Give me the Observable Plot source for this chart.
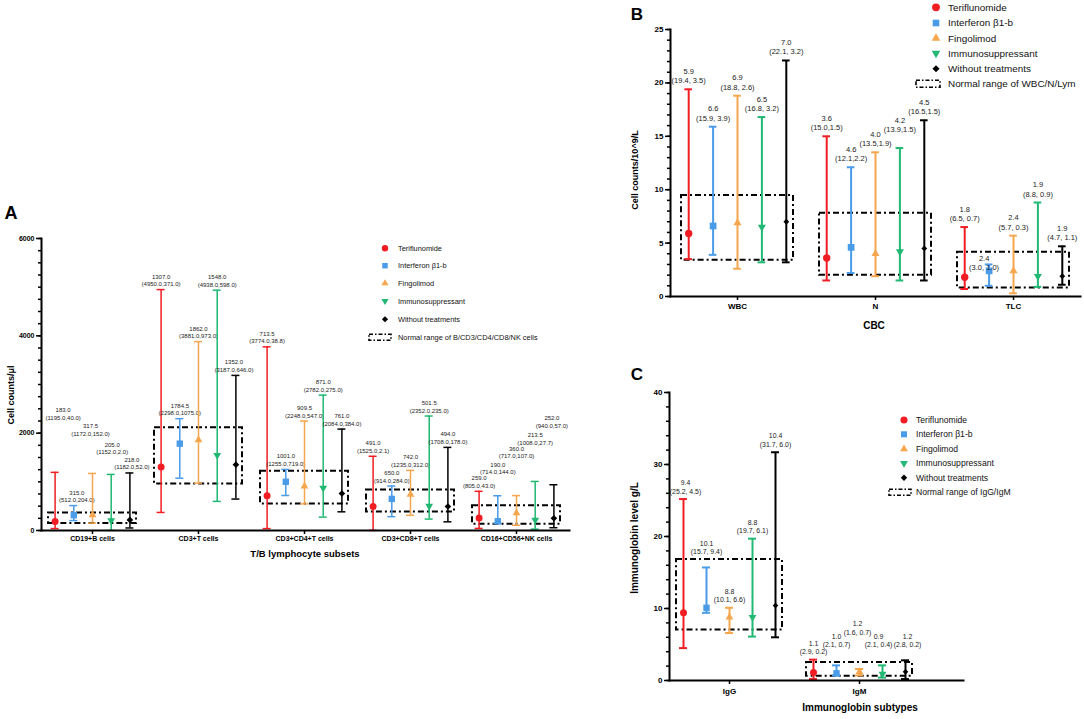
<!DOCTYPE html>
<html><head><meta charset="utf-8">
<script src="https://cdn.jsdelivr.net/npm/d3@7"></script>
<script src="https://cdn.jsdelivr.net/npm/@observablehq/plot@0.6"></script>
<style>
body{margin:0;background:#fff;font-family:"Liberation Sans",Arial,sans-serif;}
#root{position:relative;width:1084px;height:719px;overflow:hidden;background:#fff;}
.lab{position:absolute;white-space:nowrap;color:#000;line-height:1;}
</style></head><body><div id="root"></div>
<script>
// ---------- shared ----------
const treatments = ["Teriflunomide","Interferon β1-b","Fingolimod","Immunosuppressant","Without treatments"];
const colors = ["#f01e23","#4a9be8","#f6a64c","#20b872","#000000"];
const symbols = ["circle","square","triangle","triangle","diamond2"];
const rotations = [0,0,0,180,0];

// ---------- Panel A ----------
const catsA = ["CD19+B cells","CD3+T cells","CD3+CD4+T cells","CD3+CD8+T cells","CD16+CD56+NK cells"];
const medA = [[183.0,315.0,317.5,205.0,218.0],[1307.0,1784.5,1862.0,1548.0,1352.0],[713.5,1001.0,909.5,871.0,761.0],[491.0,650.0,742.0,501.5,494.0],[259.0,190.0,360.0,213.5,252.0]];
const maxA = [[1195.0,512.0,1172.0,1152.0,1182.0],[4950.0,2298.0,3881.0,4938.0,3187.0],[3774.0,1255.0,2248.0,2782.0,2084.0],[1525.0,914.0,1235.0,2352.0,1708.0],[805.0,714.0,717.0,1008.0,940.0]];
const minA = [[40.0,204.0,152.0,2.0,52.0],[371.0,1075.0,973.0,598.0,646.0],[38.8,719.0,547.0,275.0,384.0],[2.1,284.0,312.0,235.0,178.0],[43.0,144.0,107.0,27.7,57.0]];
const labelAtA = [[2200,null,1870,1500,null],[null,null,null,null,null],[null,null,null,null,null],[null,null,null,null,null],[null,1080,1410,1690,2040]];
const labelNudgeA = [[8,3,-2,1,2],[0,0,0,0,-2],[0,0,0,0,0],[0,0,0,0,0],[0,0,0,0,-2]];
const normLoA = [145,955,545,380,130];
const normHiA = [358,2110,1220,830,510];
const sepA = [",",",",",",",",","];

// ---------- Panel B ----------
const catsB = ["WBC","N","TLC"];
const medB = [[5.9,6.6,6.9,6.5,7.0],[3.6,4.6,4.0,4.2,4.5],[1.8,2.4,2.4,1.9,1.9]];
const maxB = [[19.4,15.9,18.8,16.8,22.1],[15.0,12.1,13.5,13.9,16.5],[6.5,3.0,5.7,8.8,4.7]];
const minB = [[3.5,3.9,2.6,3.2,3.2],[1.5,2.2,1.9,1.5,1.5],[0.7,1.0,0.3,0.9,1.1]];
const labelAtB = [[null,null,null,null,null],[null,null,null,14.85,null],[null,1.92,null,null,null]];
const labelNudgeB = [[0,0,0,0,0],[0,0,0,0,0],[0,-5,0,0,0]];
const normLoB = [3.4,2.0,0.8];
const normHiB = [9.45,7.8,4.15];
const sepB = [", ",",",", "];

// ---------- Panel C ----------
const catsC = ["IgG","IgM"];
const medC = [[9.4,10.1,8.8,8.8,10.4],[1.1,1.0,1.2,0.9,1.2]];
const maxC = [[25.2,15.7,10.1,19.7,31.7],[2.9,2.1,1.6,2.1,2.8]];
const minC = [[4.5,9.4,6.6,6.1,6.0],[0.2,0.7,0.7,0.4,0.2]];
const labelAtC = [[null,16.8,null,null,null],[null,3.84,5.59,3.84,3.84]];
const labelNudgeC = [[2,0,0,0,0],[0,0,-2,-4,2]];
const normLoC = [7.0,0.6];
const normHiC = [16.8,2.5];
const sepC = [", ",", "];

const root = document.getElementById("root");

function panel(o) {
  const rows = [];
  o.cats.forEach((c,i)=>treatments.forEach((t,j)=>{
    const la = o.labelAt[i][j];
    rows.push({cat:c, j, med:o.med[i][j], max:o.max[i][j], min:o.min[i][j],
      la: la == null ? o.max[i][j] : la, nudge: o.nudge[i][j],
      label: `${o.med[i][j].toFixed(1)}\n(${o.max[i][j].toFixed(1)}${o.sep[i]}${o.min[i][j].toFixed(1)})`});
  }));
  const ranges = o.cats.map((c,i)=>({cat:c, lo:o.lo[i], hi:o.hi[i]}));
  const bw = (o.xRange[1]-o.xRange[0])/o.cats.length;
  const capIn = (bw - o.capW)/2;
  const marks = [
    Plot.barY(ranges,{x:"cat",y1:"lo",y2:"hi",fill:"none",stroke:"#000",strokeWidth:2,
      strokeDasharray:"6,3,2,3",insetLeft:o.inset,insetRight:o.inset})
  ];
  treatments.forEach((t,j)=>{
    const d = rows.filter(r=>r.j===j);
    const dx = (j-2)*o.spacing;
    marks.push(Plot.ruleX(d,{x:"cat",y1:"min",y2:"max",dx,stroke:colors[j],strokeWidth:o.sw}));
    marks.push(Plot.tickY(d,{x:"cat",y:"max",dx,stroke:colors[j],strokeWidth:o.sw,insetLeft:capIn,insetRight:capIn}));
    marks.push(Plot.tickY(d,{x:"cat",y:"min",dx,stroke:colors[j],strokeWidth:o.sw,insetLeft:capIn,insetRight:capIn}));
    marks.push(Plot.dot(d,{x:"cat",y:"med",dx,symbol:symbols[j],rotate:rotations[j],fill:colors[j],stroke:"none",r:o.r[j]}));
    d.forEach(row=>{
      marks.push(Plot.text([row],{x:"cat",y:"la",dx:dx+row.nudge,text:"label",lineAnchor:"bottom",dy:o.labDy,fontSize:o.labFs,fill:"#222",lineHeight:1.25}));
    });
  });
  marks.push(
    Plot.axisY({ticks:o.yMinor,tickSize:3,tickFormat:()=>"",label:null,strokeWidth:1.5}),
    Plot.axisY({ticks:o.yMajor,tickSize:5,tickPadding:2,tickFormat:d=>String(d),fontSize:o.tickFs,fontWeight:"bold",label:null,strokeWidth:1.5}),
    Plot.axisX({tickSize:4,tickPadding:o.xPad,fontSize:o.xFs,fontWeight:"bold",label:null,strokeWidth:1.5}),
    Plot.frame({anchor:"left",strokeWidth:2}),
    Plot.frame({anchor:"bottom",strokeWidth:2})
  );
  const svg = Plot.plot({
    width:o.width, height:o.height,
    marginLeft:o.ml, marginRight:o.mr, marginTop:o.mt, marginBottom:o.mb,
    x:{type:"band",domain:o.cats,range:o.xRange,padding:0},
    y:{domain:o.yDomain},
    style:{fontFamily:"'Liberation Sans', Arial, sans-serif",color:"#000",background:"transparent",overflow:"visible"},
    marks
  });
  svg.style.position="absolute"; svg.style.left=o.left+"px"; svg.style.top=o.top+"px";
  svg.style.maxWidth="none";
  root.appendChild(svg);
}

panel({cats:catsA,med:medA,max:maxA,min:minA,labelAt:labelAtA,nudge:labelNudgeA,lo:normLoA,hi:normHiA,sep:sepA,
  left:0,top:200,width:580,height:360,ml:41,mr:11,mt:38,mb:30,xRange:[39,569],
  yDomain:[0,6000],yMajor:[0,2000,4000,6000],yMinor:d3.range(0,6001,250),
  spacing:18.7,capW:8,inset:9,sw:1.5,r:[3.5,3.6,2.9,2.9,3.0],labFs:6,labDy:-3.5,tickFs:7,xFs:7,xPad:2});

panel({cats:catsB,med:medB,max:maxB,min:minB,labelAt:labelAtB,nudge:labelNudgeB,lo:normLoB,hi:normHiB,sep:sepB,
  left:600,top:0,width:484,height:320,ml:70,mr:4,mt:29,mb:24,xRange:[67,482],
  yDomain:[0,25],yMajor:[0,5,10,15,20,25],yMinor:d3.range(0,26,1),
  spacing:24.4,capW:8,inset:13,sw:2,r:[3.7,3.8,3.0,3.0,2.6],labFs:7.5,labDy:-6,tickFs:8,xFs:8,xPad:3});

panel({cats:catsC,med:medC,max:maxC,min:minC,labelAt:labelAtC,nudge:labelNudgeC,lo:normLoC,hi:normHiC,sep:sepC,
  left:600,top:370,width:484,height:340,ml:69,mr:121,mt:22,mb:30,xRange:[64,324],
  yDomain:[0,40],yMajor:[0,10,20,30,40],yMinor:d3.range(0,41,2),
  spacing:23,capW:8,inset:12,sw:2,r:[3.5,3.6,2.9,2.9,2.5],labFs:6.9,labDy:-5.4,tickFs:8,xFs:8,xPad:4});

// ---------- titles ----------
function label(txt,x,y,size,{bold=true,rot=0}={}) {
  const d = document.createElement("div");
  d.className="lab"; d.textContent=txt;
  d.style.left=x+"px"; d.style.top=y+"px"; d.style.fontSize=size+"px";
  d.style.fontWeight=bold?"bold":"normal";
  d.style.transform=`translate(-50%,-50%) rotate(${rot}deg)`;
  root.appendChild(d);
}
label("A",11,213,18);
label("B",637,14,17);
label("C",637,374,17);
label("Cell counts/μl",11,395,9,{rot:-90});
label("T/B lymphocyte subsets",305,554,9.5);
label("Cell counts/10^9/L",635,170,9,{rot:-90});
label("CBC",874,326,10);
label("Immunoglobin level g/L",635,538,10,{rot:-90});
label("Immunoglobin subtypes",860,708,10);

// ---------- legends ----------
const ov = d3.select(root).append("svg").attr("width",1084).attr("height",719)
  .style("position","absolute").style("left","0px").style("top","0px")
  .style("font-family","'Liberation Sans', Arial, sans-serif");
const symTypes = [d3.symbolCircle,d3.symbolSquare,d3.symbolTriangle,d3.symbolTriangle,d3.symbolDiamond2];
function legend({x,tx,ys,fs,size,last,dash}) {
  treatments.forEach((t,j)=>{
    ov.append("path").attr("d",d3.symbol(symTypes[j],size[j])())
      .attr("transform",`translate(${x},${ys[j]}) rotate(${rotations[j]})`).attr("fill",colors[j]);
    ov.append("text").attr("x",tx).attr("y",ys[j]).attr("dy","0.35em").attr("font-size",fs).attr("fill","#111").text(t);
  });
  ov.append("rect").attr("x",dash[0]).attr("y",ys[5]-dash[2]/2).attr("width",dash[1]-dash[0]).attr("height",dash[2])
    .attr("fill","none").attr("stroke","#000").attr("stroke-width",1.6).attr("stroke-dasharray","4,2,1.5,2");
  ov.append("text").attr("x",tx).attr("y",ys[5]).attr("dy","0.35em").attr("font-size",fs).attr("fill","#111").text(last);
}
legend({x:385,tx:398,ys:[248.3,265.7,283.3,301,319.3,337.3],fs:7.4,size:[32,30,22,22,24],
  last:"Normal range of B/CD3/CD4/CD8/NK cells",dash:[369,391,6]});
legend({x:936,tx:948,ys:[7.3,23,38.3,53.3,68.7,83.7],fs:9.9,size:[48,44,32,32,32],
  last:"Normal range of WBC/N/Lym",dash:[916,940,7]});
legend({x:904,tx:916,ys:[420,434.3,449,463.3,477.7,492.3],fs:8.6,size:[40,36,26,26,26],
  last:"Normal range of IgG/IgM",dash:[889,911,6]});
</script></body></html>
